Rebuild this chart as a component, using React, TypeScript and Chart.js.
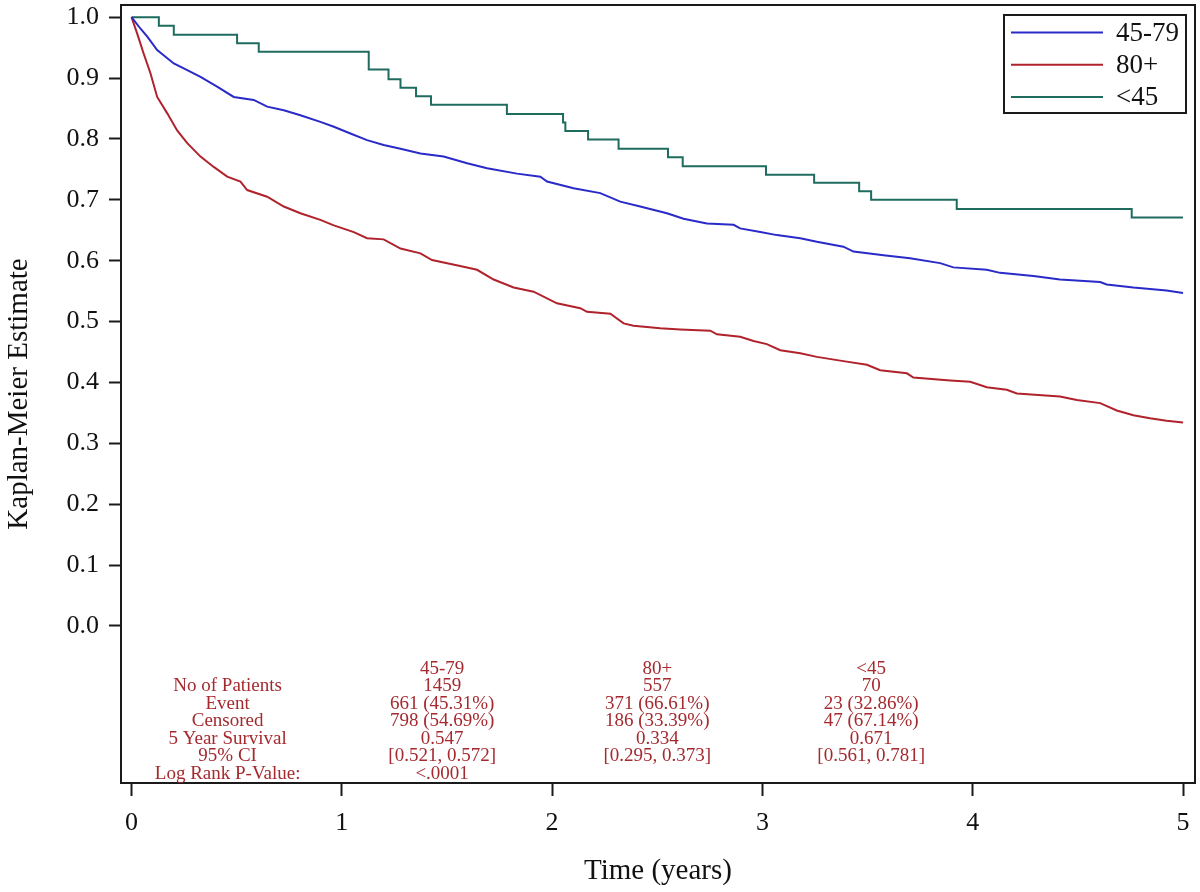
import React, { useEffect, useRef } from "react";
import { Chart, registerables } from "chart.js";

Chart.register(...registerables);

// ---- Data ----
const SERIES_LABELS = ["45-79", "80+", "<45"];
const SERIES_COLORS = ["#2a2ac8", "#b0222c", "#1f6b5d"];

const TIME_45_79 = [0, 0.043, 0.075, 0.122, 0.201, 0.265, 0.328, 0.407, 0.486, 0.581, 0.645, 0.724, 0.803, 0.898, 0.962, 1.041, 1.12, 1.199, 1.279, 1.374, 1.484, 1.596, 1.691, 1.833, 1.944, 1.976, 2.102, 2.229, 2.324, 2.419, 2.546, 2.625, 2.736, 2.863, 2.894, 2.99, 3.069, 3.18, 3.259, 3.385, 3.433, 3.576, 3.702, 3.845, 3.908, 4.067, 4.13, 4.289, 4.415, 4.606, 4.637, 4.764, 4.922, 5.0];
const SURV_45_79 = [1.0, 0.981, 0.968, 0.946, 0.924, 0.913, 0.902, 0.886, 0.869, 0.864, 0.853, 0.847, 0.839, 0.828, 0.82, 0.809, 0.798, 0.79, 0.784, 0.776, 0.771, 0.76, 0.752, 0.743, 0.738, 0.73, 0.719, 0.711, 0.697, 0.689, 0.678, 0.669, 0.661, 0.659, 0.653, 0.647, 0.642, 0.637, 0.631, 0.623, 0.615, 0.609, 0.604, 0.596, 0.589, 0.585, 0.58, 0.575, 0.569, 0.565, 0.561, 0.556, 0.551, 0.547];

const TIME_80 = [0, 0.027, 0.058, 0.09, 0.122, 0.17, 0.217, 0.265, 0.328, 0.391, 0.455, 0.518, 0.55, 0.645, 0.724, 0.803, 0.898, 0.962, 1.057, 1.12, 1.199, 1.279, 1.374, 1.429, 1.579, 1.643, 1.722, 1.817, 1.912, 2.023, 2.134, 2.166, 2.277, 2.34, 2.387, 2.514, 2.609, 2.752, 2.784, 2.894, 2.958, 3.021, 3.085, 3.18, 3.259, 3.385, 3.497, 3.56, 3.687, 3.718, 3.893, 3.988, 4.067, 4.162, 4.21, 4.415, 4.495, 4.606, 4.685, 4.764, 4.843, 4.922, 5.0];
const SURV_80 = [1.0, 0.973, 0.94, 0.908, 0.869, 0.842, 0.814, 0.793, 0.771, 0.754, 0.738, 0.73, 0.716, 0.705, 0.689, 0.678, 0.667, 0.658, 0.647, 0.637, 0.635, 0.62, 0.612, 0.601, 0.59, 0.585, 0.569, 0.556, 0.549, 0.53, 0.522, 0.516, 0.513, 0.497, 0.493, 0.489, 0.487, 0.485, 0.479, 0.475, 0.468, 0.463, 0.453, 0.448, 0.442, 0.435, 0.429, 0.42, 0.415, 0.408, 0.403, 0.401, 0.392, 0.388, 0.382, 0.377, 0.371, 0.366, 0.354, 0.346, 0.341, 0.337, 0.334];

const TIME_LT45 = [0, 0.13, 0.201, 0.502, 0.605, 1.128, 1.222, 1.279, 1.353, 1.424, 1.785, 2.052, 2.063, 2.171, 2.316, 2.551, 2.621, 3.017, 3.246, 3.46, 3.517, 3.924, 4.756, 5.0];
const SURV_LT45 = [1.0, 0.986, 0.971, 0.957, 0.943, 0.914, 0.898, 0.884, 0.87, 0.856, 0.841, 0.827, 0.813, 0.799, 0.784, 0.77, 0.755, 0.741, 0.728, 0.714, 0.7, 0.685, 0.671, 0.671];

const X_TICKS = [0, 1, 2, 3, 4, 5];
const Y_TICKS = [0.0, 0.1, 0.2, 0.3, 0.4, 0.5, 0.6, 0.7, 0.8, 0.9, 1.0];

const TABLE_HEADER = ["", "45-79", "80+", "<45"];
const TABLE_ROW_LABELS = ["No of Patients", "Event", "Censored", "5 Year Survival", "95% CI", "Log Rank P-Value:"];
const TABLE_COL_45_79 = ["1459", "661 (45.31%)", "798 (54.69%)", "0.547", "[0.521, 0.572]", "<.0001"];
const TABLE_COL_80 = ["557", "371 (66.61%)", "186 (33.39%)", "0.334", "[0.295, 0.373]", ""];
const TABLE_COL_LT45 = ["70", "23 (32.86%)", "47 (67.14%)", "0.671", "[0.561, 0.781]", ""];
const TABLE_COL_TIMES = [0.457, 1.477, 2.5, 3.517];

const FONT = '"Liberation Serif", "Times New Roman", serif';

function pts(t: number[], s: number[]) {
  return t.map((x, i) => ({ x, y: s[i] }));
}

const framePlugin = {
  id: "frame",
  afterDraw(chart: any) {
    const { ctx, chartArea } = chart;
    ctx.save();
    ctx.strokeStyle = "#1a1a1a";
    ctx.lineWidth = 2;
    ctx.strokeRect(chartArea.left, chartArea.top, chartArea.right - chartArea.left, chartArea.bottom - chartArea.top);
    ctx.restore();
  },
};

const legendPlugin = {
  id: "boxLegend",
  afterDraw(chart: any) {
    const { ctx, chartArea } = chart;
    const right = chartArea.right - 9;
    const top = chartArea.top + 10;
    const w = 182;
    const h = 98;
    const left = right - w;
    ctx.save();
    ctx.strokeStyle = "#1a1a1a";
    ctx.lineWidth = 2;
    ctx.strokeRect(left, top, w, h);
    ctx.font = `27px ${FONT}`;
    ctx.textBaseline = "middle";
    ctx.textAlign = "left";
    chart.data.datasets.forEach((ds: any, i: number) => {
      const y = top + 17.5 + i * 32.2;
      ctx.strokeStyle = ds.borderColor;
      ctx.lineWidth = 2;
      ctx.beginPath();
      ctx.moveTo(left + 7, y);
      ctx.lineTo(left + 99, y);
      ctx.stroke();
      ctx.fillStyle = "#111";
      ctx.fillText(ds.label, left + 112, y + 1);
    });
    ctx.restore();
  },
};

const tablePlugin = {
  id: "statsTable",
  afterDraw(chart: any) {
    const { ctx } = chart;
    const xs = chart.scales.x;
    const ys = chart.scales.y;
    const y0 = ys.getPixelForValue(0) + 43;
    const step = 17.45;
    const cols = TABLE_COL_TIMES.map((t) => xs.getPixelForValue(t));
    ctx.save();
    ctx.font = `19px ${FONT}`;
    ctx.fillStyle = "#a52a2f";
    ctx.textAlign = "center";
    ctx.textBaseline = "middle";
    TABLE_HEADER.forEach((txt, c) => {
      if (txt) ctx.fillText(txt, cols[c], y0);
    });
    TABLE_ROW_LABELS.forEach((label, r) => {
      const y = y0 + (r + 1) * step;
      const cells = [label, TABLE_COL_45_79[r], TABLE_COL_80[r], TABLE_COL_LT45[r]];
      cells.forEach((txt, c) => {
        if (txt) ctx.fillText(txt, cols[c], y);
      });
    });
    ctx.restore();
  },
};

export default function App() {
  const ref = useRef<HTMLCanvasElement | null>(null);

  useEffect(() => {
    if (!ref.current) return;
    const chart = new Chart(ref.current, {
      type: "line",
      data: {
        datasets: [
          { label: SERIES_LABELS[0], data: pts(TIME_45_79, SURV_45_79), borderColor: SERIES_COLORS[0], borderWidth: 2, pointRadius: 0, tension: 0, fill: false },
          { label: SERIES_LABELS[1], data: pts(TIME_80, SURV_80), borderColor: SERIES_COLORS[1], borderWidth: 2, pointRadius: 0, tension: 0, fill: false },
          { label: SERIES_LABELS[2], data: pts(TIME_LT45, SURV_LT45), borderColor: SERIES_COLORS[2], borderWidth: 2, pointRadius: 0, stepped: "before", fill: false },
        ],
      },
      options: {
        animation: false,
        responsive: false,
        layout: { padding: { left: 0, top: 5, right: 5, bottom: 0 } },
        plugins: { legend: { display: false }, tooltip: { enabled: false } },
        scales: {
          x: {
            type: "linear",
            min: -0.05,
            max: 5.057,
            afterBuildTicks: (scale: any) => {
              scale.ticks = X_TICKS.map((v) => ({ value: v }));
            },
            afterFit: (scale: any) => {
              scale.height = 109;
              scale.paddingLeft = 0;
              scale.paddingRight = 0;
            },
            ticks: {
              color: "#111",
              font: { family: FONT, size: 26 },
              padding: 12,
              maxRotation: 0,
              callback: (v: any) => String(v),
            },
            grid: { drawOnChartArea: false, drawTicks: true, tickLength: 13, tickColor: "#1a1a1a", tickWidth: 2 },
            border: { display: true, color: "#1a1a1a", width: 2 },
            title: { display: true, text: "Time (years)", color: "#111", font: { family: FONT, size: 29 }, padding: { top: 0, bottom: 3 } },
          },
          y: {
            type: "linear",
            min: -0.258,
            max: 1.02,
            afterBuildTicks: (scale: any) => {
              scale.ticks = Y_TICKS.map((v) => ({ value: v }));
            },
            afterFit: (scale: any) => {
              scale.width = 121;
              scale.paddingTop = 0;
              scale.paddingBottom = 0;
            },
            ticks: {
              color: "#111",
              font: { family: FONT, size: 26 },
              padding: 10,
              callback: (v: any) => Number(v).toFixed(1),
            },
            grid: { drawOnChartArea: false, drawTicks: true, tickLength: 12, tickColor: "#1a1a1a", tickWidth: 2 },
            border: { display: true, color: "#1a1a1a", width: 2 },
            title: { display: true, text: "Kaplan-Meier Estimate", color: "#111", font: { family: FONT, size: 29 }, padding: { top: 2, bottom: 0 } },
          },
        },
      },
      plugins: [framePlugin, legendPlugin, tablePlugin],
    } as any);
    return () => chart.destroy();
  }, []);

  return (
    <div style={{ position: "fixed", left: 0, top: 0, width: 1200, height: 892, background: "#fff" }}>
      <canvas ref={ref} width={1200} height={892} />
    </div>
  );
}
